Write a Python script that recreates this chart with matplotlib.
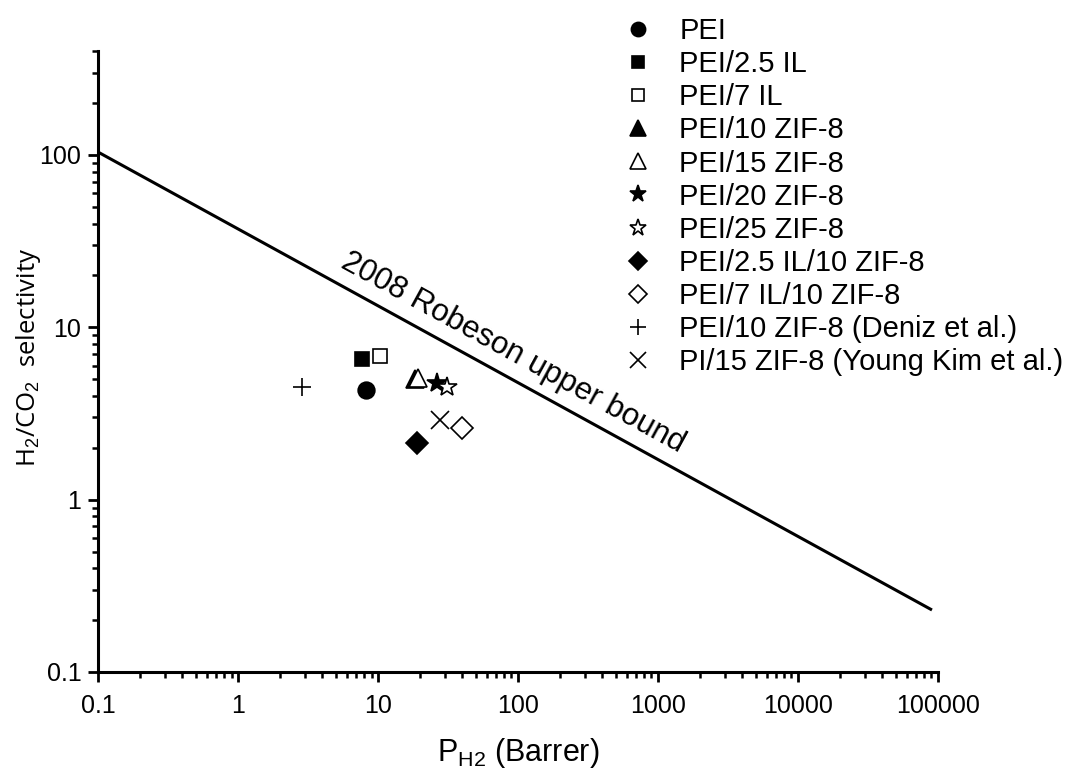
import matplotlib
matplotlib.use('Agg')
import matplotlib.pyplot as plt
import numpy as np
from matplotlib.ticker import LogLocator, FixedLocator, NullFormatter

plt.rcParams['font.family'] = ['Liberation Sans', 'DejaVu Sans']
plt.rcParams['mathtext.fontset'] = 'custom'
plt.rcParams['mathtext.rm'] = 'Liberation Sans'

# data
labels = ['PEI', 'PEI/2.5 IL', 'PEI/7 IL', 'PEI/10 ZIF-8', 'PEI/15 ZIF-8',
          'PEI/20 ZIF-8', 'PEI/25 ZIF-8', 'PEI/2.5 IL/10 ZIF-8', 'PEI/7 IL/10 ZIF-8',
          'PEI/10 ZIF-8 (Deniz et al.)', 'PI/15 ZIF-8 (Young Kim et al.)']
p_h2 = [8.2, 7.7, 10.3, 18.4, 19.3, 26.4, 31.1, 19.0, 39.8, 2.87, 27.7]
selectivity = [4.30, 6.52, 6.78, 4.99, 5.1, 4.73, 4.48, 2.14, 2.62, 4.48, 2.88]
markers = ['o', 's', 's', '^', '^', '*', '*', 'D', 'D', '+', 'x']
filled = [True, True, False, True, False, True, False, True, False, True, True]
sizes = [12, 10, 10, 13, 13, 15, 15, 11, 11, 13, 13]

robeson_x = [0.1, 91000]
robeson_y = [104, 0.229]

fig = plt.figure(figsize=(10.68, 7.74), dpi=100)
ax = fig.add_axes([0.0918, 0.1318, 0.7862, 0.802])

ax.plot(robeson_x, robeson_y, color='black', lw=2.2, solid_capstyle='butt')

for x, y, m, f, s, lab in zip(p_h2, selectivity, markers, filled, sizes, labels):
    ax.plot([x], [y], linestyle='none', marker=m, markersize=s,
            markerfacecolor='black' if f else 'white', markeredgecolor='black',
            markeredgewidth=1.2, label=lab)

ax.set_xscale('log')
ax.set_yscale('log')
ax.set_xlim(0.1, 100000)
ax.set_ylim(0.1, 400)

ax.xaxis.set_major_locator(FixedLocator([0.1, 1, 10, 100, 1000, 10000, 100000]))
ax.set_xticklabels(['0.1', '1', '10', '100', '1000', '10000', '100000'])
ax.yaxis.set_major_locator(FixedLocator([0.1, 1, 10, 100]))
ax.set_yticklabels(['0.1', '1', '10', '100'])
ax.xaxis.set_minor_locator(LogLocator(base=10, subs=np.arange(2, 10), numticks=20))
ax.yaxis.set_minor_locator(LogLocator(base=10, subs=np.arange(2, 10), numticks=20))
ax.xaxis.set_minor_formatter(NullFormatter())
ax.yaxis.set_minor_formatter(NullFormatter())

for sp in ['top', 'right']:
    ax.spines[sp].set_visible(False)
for sp in ['left', 'bottom']:
    ax.spines[sp].set_linewidth(2.2)

ax.tick_params(which='major', direction='out', length=7, width=2, labelsize=18)
ax.tick_params(axis='x', which='major', pad=8.5)
ax.tick_params(axis='y', which='major', pad=5)
ax.tick_params(which='minor', direction='out', length=4, width=1.8)

ax.set_xlabel('P$_{\\mathregular{H2}}$ (Barrer)', fontsize=22, labelpad=13)
ax.set_ylabel('H$_2$/CO$_2$  selectivity', fontsize=18.5, family=['Open Sans', 'DejaVu Sans'])
ax.yaxis.set_label_coords(-0.0655, 0.507)

# Robeson label, anchored just above the line
ax.text(82, 5.3 * 1.12, '2008 Robeson upper bound', rotation=-28.7, fontsize=22.5,
        ha='center', va='bottom', rotation_mode='anchor')

ax.legend(loc='upper left', bbox_to_anchor=(0.565, 0.993), bbox_transform=fig.transFigure,
          frameon=False, markerscale=0.85, handletextpad=0.6, handlelength=1.6,
          labelspacing=0.175, borderaxespad=0, prop={'size': 21})

fig.savefig('out.png', dpi=100)
